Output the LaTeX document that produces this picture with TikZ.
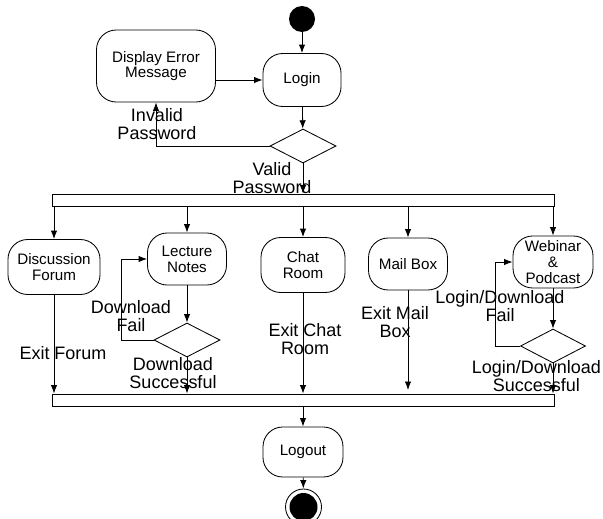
\documentclass[tikz,border=0pt]{standalone}
\usepackage{fontspec}
\setmainfont{Liberation Sans}
\usetikzlibrary{shapes.geometric}
\usetikzlibrary{arrows.meta}

\tikzset{
  activity/.style={draw, line width=0.6pt, rounded corners=14pt, align=center, inner sep=1pt, font=\fontsize{10.8}{11.2}\selectfont},
  decision/.style={draw, diamond, line width=0.6pt, minimum width=1.65cm, minimum height=0.85cm, inner sep=0pt},
  syncbar/.style={draw, fill=white, line width=0.6pt, minimum width=12.55cm, minimum height=0.3cm, inner sep=0pt},
  flow/.style={-{Latex[length=6pt,width=4.5pt]}, line width=0.6pt},
  guard/.style={align=center, font=\fontsize{12.8}{13.2}\selectfont},
}

\begin{document}
\begin{tikzpicture}
\useasboundingbox (0,0) rectangle (15.075,12.95);

% top part
\node[circle, fill=black, minimum size=0.65cm, inner sep=0pt] (start) at (7.55,12.475) {};
\node[activity, minimum width=1.95cm, minimum height=1.325cm] (login) at (7.55,10.95) {Login};
\node[activity, minimum width=2.975cm, minimum height=1.8cm] (dem) at (3.9,11.3) {Display Error\\Message};
\node[decision] (check) at (7.575,9.3) {};

\draw[flow] (start) -- (login);
\draw[flow] (dem.east |- login.west) -- (login.west);
\draw[flow] (login) -- (check);
\draw[flow] (check.west) -| (dem.south);

\node[guard] (invalid) at (3.925,9.85) {Invalid\\Password};
\node[guard] (valid) at (6.8,8.5) {Valid\\Password};

% fork
\node[syncbar] (fork) at (7.575,7.95) {};
\draw[flow] (check.south) -- (fork.north -| check.south);

\node[activity, minimum width=2.3cm, minimum height=1.375cm] (forum) at (1.35,6.275) {Discussion\\Forum};
\node[activity, minimum width=1.975cm, minimum height=1.3cm] (notes) at (4.675,6.475) {Lecture\\Notes};
\node[activity, minimum width=2.1cm, minimum height=1.375cm] (chat) at (7.575,6.325) {Chat\\Room};
\node[activity, minimum width=1.975cm, minimum height=1.3cm] (mail) at (10.2,6.35) {Mail Box};
\node[activity, minimum width=2cm, minimum height=1.3cm] (webinar) at (13.825,6.4) {Webinar\\\&\\Podcast};

\draw[flow] (fork.south -| forum) -- (forum);
\draw[flow] (fork.south -| notes) -- (notes);
\draw[flow] (fork.south -| chat) -- (chat);
\draw[flow] (fork.south -| mail) -- (mail);
\draw[flow] (fork.south -| webinar) -- (webinar);

% download loops
\node[decision] (dlcheck) at (4.675,4.45) {};
\node[decision, minimum width=1.625cm] (webcheck) at (13.825,4.3) {};

\draw[flow] (notes) -- (dlcheck);
\draw[flow] (dlcheck.west) -- ++(-0.8,0) |- (notes.west);
\draw[flow] (webinar) -- (webcheck);
\draw[flow] (webcheck.west) -- ++(-0.625,0) |- (webinar.west);

\node[guard] (dlfail) at (3.275,5.05) {Download\\Fail};
\node[guard] (dlok) at (4.325,3.625) {Download\\Successful};
\node[guard] (exitforum) at (1.575,4.125) {Exit Forum};
\node[guard] (exitchat) at (7.625,4.475) {Exit Chat\\Room};
\node[guard] (exitmail) at (9.875,4.9) {Exit Mail\\Box};
\node[guard] (webfail) at (12.5,5.3) {Login/Download\\Fail};
\node[guard] (webok) at (13.41,3.55) {Login/Download\\Successful};

% join
\node[syncbar] (join) at (7.575,2.95) {};
\coordinate (mailend) at (10.2,3.2);

\draw[flow] (forum) -- (join.north -| forum);
\draw[flow] (dlcheck.south) -- (join.north -| dlcheck);
\draw[flow] (chat) -- (join.north -| chat);
\draw[flow] (mail) -- (mailend);
\draw[flow] (webcheck.south) -- (join.north -| webcheck);

% end
\node[activity, minimum width=2cm, minimum height=1.25cm] (logout) at (7.575,1.65) {Logout};
\node[circle, draw, line width=0.6pt, minimum size=0.9cm, inner sep=0pt] (final) at (7.5875,0.275) {};
\node[circle, fill=black, minimum size=0.7cm, inner sep=0pt] (finaldot) at (final) {};

\draw[flow] (join.south -| logout) -- (logout);
\draw[flow] (logout) -- (final);

\end{tikzpicture}
\end{document}
